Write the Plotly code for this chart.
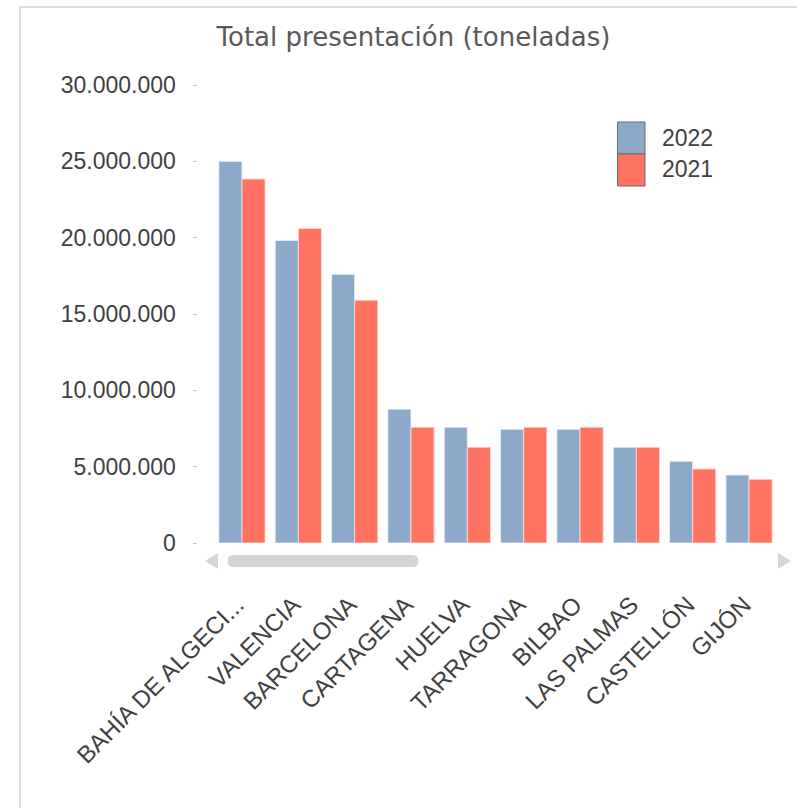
import plotly.graph_objects as go

W, H = 797, 808

ports = ["BAHÍA DE ALGECI...", "VALENCIA", "BARCELONA", "CARTAGENA", "HUELVA",
         "TARRAGONA", "BILBAO", "LAS PALMAS", "CASTELLÓN", "GIJÓN"]
val_2022 = [25.0e6, 19.82e6, 17.6e6, 8.76e6, 7.58e6, 7.45e6, 7.45e6, 6.27e6, 5.35e6, 4.45e6]
val_2021 = [23.84e6, 20.6e6, 15.9e6, 7.58e6, 6.27e6, 7.58e6, 7.58e6, 6.27e6, 4.85e6, 4.17e6]
series_names = ["2022", "2021"]
y_ticks = [0, 5e6, 10e6, 15e6, 20e6, 25e6, 30e6]

C22 = "#8DA9C9"
C21 = "#FF7362"
LBL = "Liberation Sans Narrow, Arial Narrow, Liberation Sans, Arial, sans-serif"


def fx(x):
    return x / W


def fy(y):
    return 1 - y / H


fig = go.Figure()
fig.add_trace(go.Bar(x=ports, y=val_2022, name=series_names[0], marker_color=C22,
                     marker_line=dict(color="rgba(235,242,250,0.8)", width=1)))
fig.add_trace(go.Bar(x=ports, y=val_2021, name=series_names[1], marker_color=C21,
                     marker_line=dict(color="rgba(255,220,215,0.8)", width=1)))


def P(x, y):
    return f"{fx(x)},{fy(y)}"


shapes = []
# outer frame (left and top)
shapes.append(dict(type="path", xref="paper", yref="paper",
                   path=f"M {P(20, 808)} L {P(20, 7)} L {P(797, 7)}",
                   line=dict(color="#dcdcdc", width=2)))
# scrollbar thumb
x0, x1, y0, y1, r = 227.5, 418.5, 555, 567, 6
thumb = (f"M {P(x0+r, y0)} L {P(x1-r, y0)} Q {P(x1, y0)} {P(x1, y0+r)} "
         f"Q {P(x1, y1)} {P(x1-r, y1)} L {P(x0+r, y1)} Q {P(x0, y1)} {P(x0, y1-r)} "
         f"Q {P(x0, y0)} {P(x0+r, y0)} Z")
shapes.append(dict(type="path", xref="paper", yref="paper", path=thumb,
                   fillcolor="#d4d4d4", line=dict(width=0)))
# scroll arrows
shapes.append(dict(type="path", xref="paper", yref="paper",
                   path=f"M {P(205, 561)} L {P(218, 553)} L {P(218, 569)} Z",
                   fillcolor="#d6d6d6", line=dict(width=0)))
shapes.append(dict(type="path", xref="paper", yref="paper",
                   path=f"M {P(791, 561)} L {P(778, 553)} L {P(778, 569)} Z",
                   fillcolor="#d6d6d6", line=dict(width=0)))
# legend boxes
shapes.append(dict(type="rect", xref="paper", yref="paper",
                   x0=fx(617.5), x1=fx(645), y0=fy(154), y1=fy(122),
                   fillcolor=C22, line=dict(color="#6b6b6b", width=1)))
shapes.append(dict(type="rect", xref="paper", yref="paper",
                   x0=fx(617.5), x1=fx(645), y0=fy(186), y1=fy(154),
                   fillcolor=C21, line=dict(color="#6b6b6b", width=1)))

annotations = [
    dict(text=series_names[0], xref="paper", yref="paper", x=fx(660), y=fy(137.5),
         xanchor="left", yanchor="middle", showarrow=False,
         font=dict(family=LBL, size=23, color="#404040")),
    dict(text=series_names[1], xref="paper", yref="paper", x=fx(660), y=fy(168.5),
         xanchor="left", yanchor="middle", showarrow=False,
         font=dict(family=LBL, size=23, color="#404040")),
]

fig.update_layout(
    width=W, height=H, autosize=False,
    margin=dict(l=0, r=0, t=0, b=0, pad=0),
    paper_bgcolor="white", plot_bgcolor="white",
    separators=",.",
    barmode="group", bargap=0.18, bargroupgap=0,
    showlegend=False,
    title=dict(text="Total presentación (toneladas)", x=fx(413.5), y=fy(37),
               xanchor="center", yanchor="middle", xref="paper", yref="paper",
               font=dict(family="DejaVu Sans, sans-serif", size=26, color="#595959")),
    xaxis=dict(domain=[fx(213.8), fx(777.2)], range=[-0.5, 9.5],
               showgrid=False, showline=False, zeroline=False, ticks="",
               tickangle=-45, automargin=False, ticklabelstandoff=42,
               ticklabelshift=-5,
               tickfont=dict(family=LBL, size=24, color="#404040")),
    yaxis=dict(domain=[fy(543), fy(85)], range=[0, 30e6],
               anchor="free", position=fx(196.5),
               tickvals=y_ticks, tickformat=",.0f",
               showgrid=False, showline=False, zeroline=False,
               ticks="outside", ticklen=4, tickcolor="#c8c8c8", tickwidth=1,
               ticklabelstandoff=12, automargin=False,
               tickfont=dict(family=LBL, size=23, color="#404040")),
    shapes=shapes, annotations=annotations,
)

fig.write_html("out.html", config={"displayModeBar": False},
               post_script="document.body.style.margin='0';document.body.style.overflow='hidden';")
